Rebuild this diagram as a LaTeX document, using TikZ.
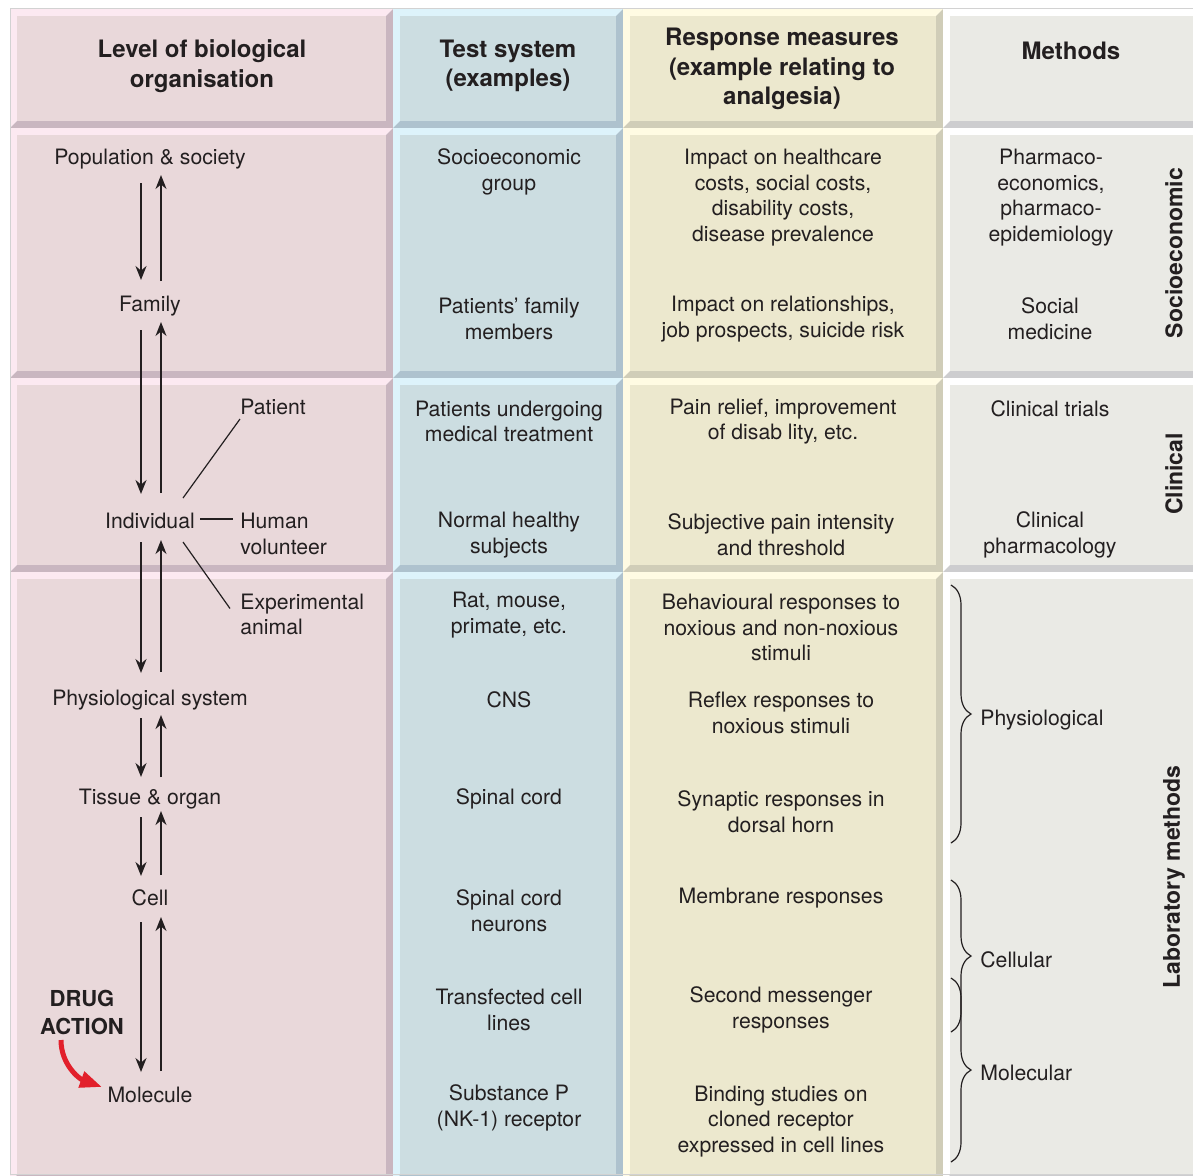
\documentclass[tikz,border=0pt]{standalone}
\usepackage{fontspec}
\setmainfont{TeX Gyre Heros}
\usetikzlibrary{arrows.meta, positioning, calc, decorations.pathreplacing}
\definecolor{txtDark}{HTML}{231F20}
\definecolor{orgFace}{HTML}{E9D8DA}
\definecolor{orgLight}{HTML}{FCE9F1}
\definecolor{orgDark}{HTML}{C9B6C0}
\definecolor{testFace}{HTML}{CCDDE1}
\definecolor{testLight}{HTML}{DDF3FB}
\definecolor{testDark}{HTML}{AEC2CE}
\definecolor{respFace}{HTML}{ECE8CE}
\definecolor{respLight}{HTML}{FFFBE3}
\definecolor{respDark}{HTML}{D0CDB8}
\definecolor{methFace}{HTML}{EAEAE5}
\definecolor{methLight}{HTML}{FFFFFF}
\definecolor{methDark}{HTML}{CDCDCF}
\definecolor{drugRed}{HTML}{E2202B}

% panel biselado: x1, y1, x2, y2, cara, luz, sombra
\newcommand{\bevelpanel}[7]{%
  \fill[fill=#6] (#1,#2) -- (#3,#2) -- (#3-7,#2+7) -- (#1+7,#2+7) -- (#1+7,#4-7) -- (#1,#4) -- cycle;
  \fill[fill=#7] (#3,#2) -- (#3,#4) -- (#1,#4) -- (#1+7,#4-7) -- (#3-7,#4-7) -- (#3-7,#2+7) -- cycle;
  \fill[fill=#5] (#1+7,#2+7) rectangle (#3-7,#4-7);
}

\begin{document}
\begin{tikzpicture}[x=0.5pt, y=-0.5pt,
    txt/.style={font=\fontsize{10.6}{12.9}\selectfont, text=txtDark, align=center, inner sep=0pt, yshift=-1pt},
    head/.style={font=\bfseries\fontsize{12}{14.8}\selectfont, text=txtDark, align=center, inner sep=0pt, yshift=-1.5pt},
    side/.style={font=\bfseries\fontsize{11.5}{14}\selectfont, text=txtDark, rotate=90, inner sep=0pt},
    lvlarrow/.style={-{Stealth[length=7pt, width=5.5pt]}, line width=0.9pt, txtDark},
    tie/.style={line width=0.6pt, txtDark},
    bracemark/.style={decorate, decoration={brace, amplitude=10pt}, line width=0.6pt, txtDark}]
    \useasboundingbox (0,0) rectangle (1193,1175);

    % paneles
    \begin{scope}
      \clip (0,0) rectangle (1193,1175);
      \foreach \ya/\yb in {9/128, 128/378, 378/572, 572/1182}
        \foreach \xa/\xb/\cf/\cl/\cd in {10/393/orgFace/orgLight/orgDark,
            393/623/testFace/testLight/testDark, 623/943/respFace/respLight/respDark,
            943/1200/methFace/methLight/methDark}
          {\bevelpanel{\xa}{\ya}{\xb}{\yb}{\cf}{\cl}{\cd}}
      \draw[gray!35, line width=0.4pt] (10,1175) -- (10,8.5) -- (1200,8.5);
      \draw[gray!35, line width=0.4pt] (10,1174.5) -- (1200,1174.5);
    \end{scope}

    % cabeceras
    \node[head] (hOrg) at (202,63) {Level of biological\\organisation};
    \node[head] (hTest) at (508,63) {Test system\\(examples)};
    \node[head] (hResp) at (782,66) {Response measures\\(example relating to\\analgesia)};
    \node[head] (hMeth) at (1071,48) {Methods};

    % niveles
    \node[txt] (pop) at (150,157) {Population \& society};
    \node[txt] (fam) at (150,304) {Family};
    \node[txt] (ind) at (150,519) {Individual};
    \node[txt] (phys) at (150,698) {Physiological system};
    \node[txt] (tis) at (150,797) {Tissue \& organ};
    \node[txt] (cell) at (150,896) {Cell};
    \node[txt] (mol) at (150,1093) {Molecule};

    \node[txt, anchor=west] (pat) at (240,405) {Patient};
    \node[txt, anchor=west, align=left] (vol) at (240,532) {Human\\volunteer};
    \node[txt, anchor=west, align=left] (expa) at (240,612.5) {Experimental\\animal};

    \foreach \a/\b/\da/\db/\ua/\ub in {pop/fam/24/26/25/16, fam/ind/24/27/28/16,
        ind/phys/21/27/28/19, phys/tis/18/22/22/15, tis/cell/18/22/23/12, cell/mol/24/23/24/19}
    {
      \draw[lvlarrow] ($(\a.center)+(-9,\da)$) -- ($(\b.center)+(-9,-\db)$);
      \draw[lvlarrow] ($(\b.center)+(11,-\ua)$) -- ($(\a.center)+(11,\ub)$);
    }

    \draw[tie] ($(ind.center)+(33,-23)$) -- ($(pat.west)+(0,12)$);
    \draw[tie] ($(ind.east)+(5,-2)$) -- ($(vol.west)+(-7,-15)$);
    \draw[tie] ($(ind.center)+(33,21)$) -- ($(expa.west)+(-10,-6)$);

    % accion del farmaco
    \node[font=\bfseries\fontsize{11}{14}\selectfont, text=txtDark, align=center, inner sep=0pt]
      (drug) at (82,1012) {DRUG\\ACTION};
    \draw[drugRed, line width=2.5pt, -{Triangle[length=11pt, width=8pt]}]
      ($(drug.center)+(-21,28)$) to[out=-90, in=160] ($(mol.center)+(-48,-8)$);

    % sistemas de prueba
    \node[txt] (tPop) at (509,170) {Socioeconomic\\group};
    \node[txt] (tFam) at (509,317) {Patients' family\\members};
    \node[txt] (tPat) at (509,419.5) {Patients undergoing\\medical treatment};
    \node[txt] (tVol) at (509,533) {Normal healthy\\subjects};
    \node[txt] (tAni) at (509,613) {Rat, mouse,\\primate, etc.};
    \node[txt] (tCns) at (509,698) {CNS};
    \node[txt] (tCord) at (509,797) {Spinal cord};
    \node[txt] (tNeur) at (509,909) {Spinal cord\\neurons};
    \node[txt] (tLine) at (509,1008) {Transfected cell\\lines};
    \node[txt] (tRec) at (509,1106) {Substance P\\(NK-1) receptor};

    % respuestas
    \node[txt] (rPop) at (783,195.5) {Impact on healthcare\\costs, social costs,\\disability costs,\\disease prevalence};
    \node[txt] (rFam) at (783,317) {Impact on relationships,\\job prospects, suicide risk};
    \node[txt] (rPat) at (783,419.5) {Pain relief, improvement\\of disab lity, etc.};
    \node[txt] (rVol) at (781,533) {Subjective pain intensity\\and threshold};
    \node[txt] (rAni) at (781,625.5) {Behavioural responses to\\noxious and non-noxious\\stimuli};
    \node[txt] (rCns) at (781,711) {Reflex responses to\\noxious stimuli};
    \node[txt] (rCord) at (781,810) {Synaptic responses in\\dorsal horn};
    \node[txt] (rNeur) at (781,896) {Membrane responses};
    \node[txt] (rLine) at (781,1008) {Second messenger\\responses};
    \node[txt] (rRec) at (781,1119.5) {Binding studies on\\cloned receptor\\expressed in cell lines};

    % metodos
    \node[txt] (mPop) at (1051,195.5) {Pharmaco-\\economics,\\pharmaco-\\epidemiology};
    \node[txt] (mFam) at (1050,317) {Social\\medicine};
    \node[txt] (mPat) at (1050,407) {Clinical trials};
    \node[txt] (mVol) at (1050,533) {Clinical\\pharmacology};

    \node[side] (sSoc) at (1174,253) {Socioeconomic};
    \node[side] (sCli) at (1174,474) {Clinical};
    \node[side] (sLab) at (1174,877) {Laboratory methods};

    % llaves
    \coordinate (phTop) at (951,585);
    \coordinate (phBot) at (951,843);
    \coordinate (ceTop) at (951,880);
    \coordinate (ceBot) at (951,1032);
    \coordinate (moTop) at (951,978);
    \coordinate (moBot) at (951,1162);
    \draw[bracemark] (phTop) -- (phBot);
    \draw[bracemark] (ceTop) -- (ceBot);
    \draw[bracemark] (moTop) -- (moBot);
    \node[txt, anchor=west] (bPhys) at (980,718) {Physiological};
    \node[txt, anchor=west] (bCell) at (980,958) {Cellular};
    \node[txt, anchor=west] (bMol) at (980,1071) {Molecular};
  \end{tikzpicture}
\end{document}
